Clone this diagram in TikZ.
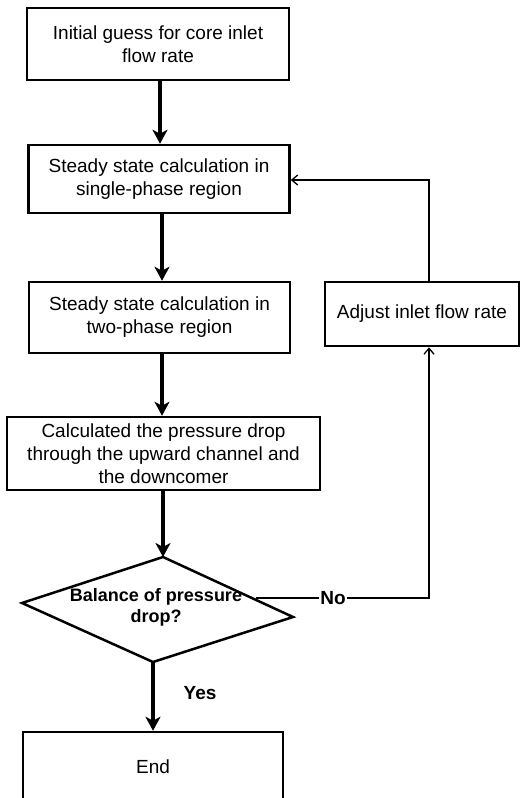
\documentclass[tikz,border=0pt]{standalone}
\usepackage{fontspec}
\setmainfont{Liberation Sans}
\usetikzlibrary{arrows.meta}
\begin{document}
\begin{tikzpicture}[x=1pt,y=-1pt,
  box/.style={draw, line width=2.5pt, align=center, inner sep=0pt,
    font=\fontsize{19}{23}\selectfont},
  mainarrow/.style={line width=3.5pt, -{Stealth[length=14pt,width=15pt,inset=4pt]}},
  fbline/.style={line width=1.3pt},
  fbarrow/.style={line width=1.3pt, -{Straight Barb[length=6pt,width=10pt]}},
  lbl/.style={font=\fontsize{19}{23}\selectfont\bfseries, inner sep=1pt}
]
\clip (0,0) rectangle (520,798);
\fill[white] (0,0) rectangle (520,798);

\node[box, minimum width=262pt, minimum height=72pt] (b1) at (158,44)
  {Initial guess for core inlet\\flow rate};
\node[box, minimum width=261pt, minimum height=68pt] (b2) at (159,179)
  {Steady state calculation in\\single-phase region};
\node[box, minimum width=261pt, minimum height=71pt] (b3) at (159.5,317.5)
  {Steady state calculation in\\two-phase region};
\node[box, minimum width=313pt, minimum height=73pt] (b4) at (163.5,453.5)
  {Calculated the pressure drop\\through the upward channel and\\the downcomer};
\node[box, minimum width=194pt, minimum height=64pt] (adj) at (422,314)
  {Adjust inlet flow rate};
\node[box, minimum width=260pt, minimum height=70pt] (end) at (153,767)
  {End};

% decision diamond
\coordinate (dt) at (163,557);
\coordinate (dr) at (293,617);
\coordinate (db) at (153,662);
\coordinate (dl) at (22,603);
\draw[line width=2.5pt, line join=miter] (dt) -- (dr) -- (db) -- (dl) -- cycle;
\node[lbl, font=\fontsize{18}{21}\selectfont\bfseries, align=center] (dq) at (156,607)
  {Balance of pressure\\drop?};

% main flow
\draw[mainarrow] (b1.south -| 160,0) -- (b2.north -| 160,0);
\draw[mainarrow] (b2.south -| 162,0) -- (b3.north -| 162,0);
\draw[mainarrow] (b3.south -| 162,0) -- (b4.north -| 162,0);
\draw[mainarrow] (b4.south -| dt) -- (dt);
\draw[mainarrow] (db) -- (end.north -| db);

% feedback loop
\coordinate (dno) at (256,598);
\coordinate (cno) at (429,598);
\coordinate (ctop) at (429,180);
\draw[fbarrow] (dno) -- (cno) -- (adj.south -| cno);
\draw[fbarrow] (adj.north -| ctop) -- (ctop) -- (b2.east |- ctop);

\node[lbl, fill=white] (no) at (333,598) {No};
\node[lbl] (yes) at (200,693) {Yes};
\end{tikzpicture}
\end{document}
